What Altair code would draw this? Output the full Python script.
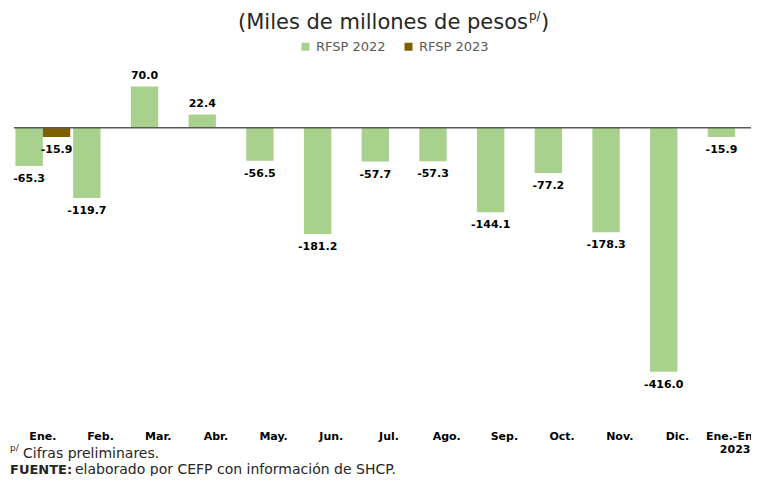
import altair as alt
import pandas as pd

categories = ["Ene.", "Feb.", "Mar.", "Abr.", "May.", "Jun.", "Jul.", "Ago.",
              "Sep.", "Oct.", "Nov.", "Dic.", "Ene.-Ene. 2023"]
values_2022 = [-65.3, -119.7, 70.0, 22.4, -56.5, -181.2, -57.7, -57.3,
               -144.1, -77.2, -178.3, -416.0, -15.9]
categories_2023 = ["Ene."]
values_2023 = [-15.9]
series = ["RFSP 2022", "RFSP 2023"]
colors = ["#A9D18E", "#7F6000"]

rows = [{"mes": c, "serie": series[0], "valor": v} for c, v in zip(categories, values_2022)]
rows += [{"mes": c, "serie": series[1], "valor": v} for c, v in zip(categories_2023, values_2023)]
df = pd.DataFrame(rows)
df["etiqueta"] = df["valor"].map(lambda v: f"{v:.1f}")

FONT = "DejaVu Sans"

base = alt.Chart(df)

x_enc = alt.X("mes:N", sort=categories, title=None,
              scale=alt.Scale(range=[0, 750], paddingInner=0.05, paddingOuter=0.025),
              axis=alt.Axis(labelAngle=0, domain=False, ticks=False, labelPadding=9,
                            labelFont=FONT, labelFontSize=11, labelFontWeight="bold",
                            labelColor="#000000", labelLineHeight=13, labelLimit=200,
                            labelExpr="datum.value == 'Ene.-Ene. 2023' ? ['Ene.-Ene.', '2023'] : datum.label"))
xo_enc = alt.XOffset("serie:N", sort=series, scale=alt.Scale(paddingInner=0, paddingOuter=0))
y_enc = alt.Y("valor:Q", scale=alt.Scale(domain=[-500, 100], nice=False), axis=None)

bars = base.mark_bar().encode(
    x=x_enc, xOffset=xo_enc, y=y_enc,
    color=alt.Color("serie:N", sort=series,
                    scale=alt.Scale(domain=series, range=colors),
                    legend=alt.Legend(title=None, orient="none", legendX=285, legendY=-29,
                                      direction="horizontal", symbolType="square",
                                      symbolSize=64, labelFont=FONT, labelFontSize=13,
                                      labelColor="#595959", columnPadding=16,
                                      labelOffset=4, symbolStrokeWidth=0))
)

zero = alt.Chart(alt.Data(values=[{}])).mark_rule(color="#595959", strokeWidth=1.5).encode(
    y=alt.datum(0, scale=alt.Scale(domain=[-500, 100], nice=False))
)

lab_neg = base.transform_filter("datum.valor < 0").mark_text(
    font=FONT, fontSize=11, fontWeight="bold", color="#000000", baseline="middle", dy=13
).encode(x=alt.X("mes:N", sort=categories), xOffset=alt.XOffset("serie:N", sort=series),
         y="valor:Q", text="etiqueta:N")
lab_pos = base.transform_filter("datum.valor >= 0").mark_text(
    font=FONT, fontSize=11, fontWeight="bold", color="#000000", baseline="middle", dy=-11
).encode(x=alt.X("mes:N", sort=categories), xOffset=alt.XOffset("serie:N", sort=series),
         y="valor:Q", text="etiqueta:N")

one = alt.Data(values=[{}])
def note(text, x, y, size, weight="normal", align="left", color="#262626"):
    return alt.Chart(one).mark_text(font=FONT, fontSize=size, fontWeight=weight,
                                    align=align, baseline="alphabetic", color=color).encode(
        x=alt.value(x), y=alt.value(y), text=alt.value(text))

title_main = note("(Miles de millones de pesos", 514, -40, 21, align="right")
title_sup = note("p/", 515, -49, 12)
title_close = note(")", 527, -40, 21)
foot_sup = note("p/", -4, 382, 9)
foot1 = note("Cifras preliminares.", 9, 389, 14)
foot2a = note("FUENTE:", -4, 405, 13, weight="bold")
foot2b = note("elaborado por CEFP con información de SHCP.", 61, 405, 14)

chart = alt.layer(bars, zero, lab_neg, lab_pos, title_main, title_sup, title_close,
                  foot_sup, foot1, foot2a, foot2b).properties(
    width=737, height=352,
    autosize=alt.AutoSizeParams(type="none"),
    padding={"left": 6, "top": 61, "right": 0, "bottom": 55},
).configure(background="white").configure_view(stroke="transparent", strokeWidth=0)

chart.save("out.html", embed_options={"renderer": "svg", "actions": False})
